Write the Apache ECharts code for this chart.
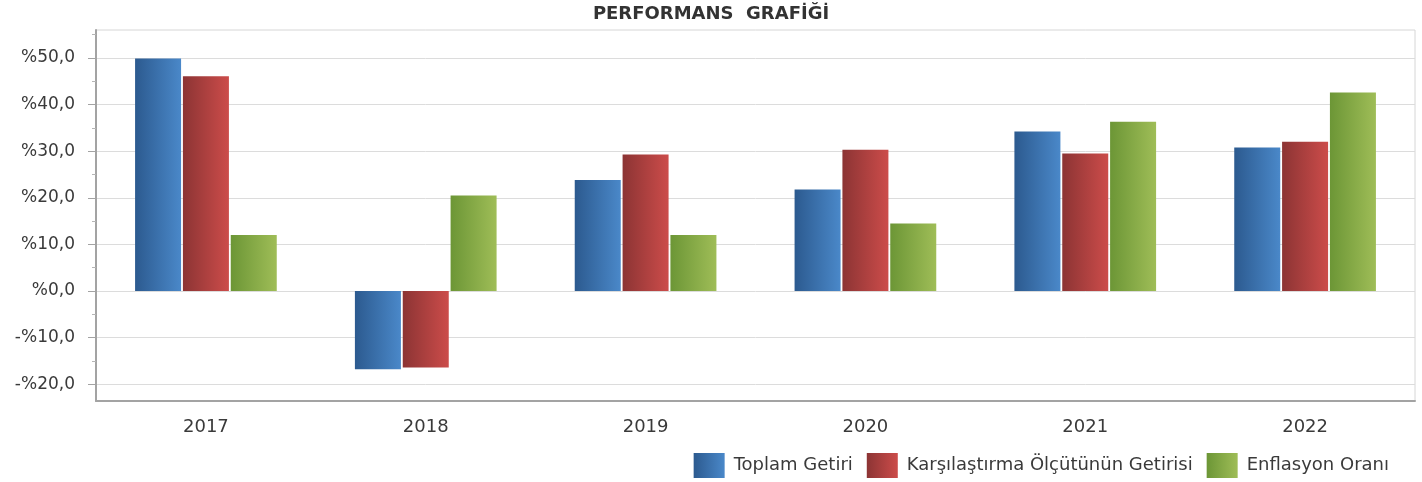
<!DOCTYPE html>
<html>
<head>
<meta charset="utf-8">
<title>Performans Grafiği</title>
<script src="https://cdn.jsdelivr.net/npm/echarts@6/dist/echarts.min.js"></script>
<style>
  html, body { margin: 0; padding: 0; background: #fff; }
  #chart { width: 1422px; height: 482px; }
</style>
</head>
<body>
<div id="chart"></div>
<script>
// yillar
var years = ['2017', '2018', '2019', '2020', '2021', '2022'];

// getiriler (%)
var toplamGetiri = [49.9, -16.8, 23.8, 21.8, 34.2, 30.8];
var olcutGetirisi = [46.1, -16.4, 29.3, 30.3, 29.5, 32.0];
var enflasyon = [12.0, 20.5, 12.0, 14.5, 36.3, 42.6];

// eksen etiketleri
var yTicks = [-20, -10, 0, 10, 20, 30, 40, 50];
var yMinorTicks = [-15, -5, 5, 15, 25, 35, 45, 55];

var chart = echarts.init(document.getElementById('chart'));

function grad(from, to) {
  return {
    type: 'linear', x: 0, y: 0, x2: 1, y2: 0,
    colorStops: [{ offset: 0, color: from }, { offset: 1, color: to }]
  };
}

function pct(v) {
  return (v < 0 ? '-' : '') + '%' + Math.abs(v).toFixed(1).replace('.', ',');
}

var txt = '#3a3a3a';
var font = 'DejaVu Sans';

var option = {
  animation: false,
  title: {
    text: 'PERFORMANS  GRAFİĞİ',
    left: 'center',
    top: 0,
    textStyle: { fontFamily: font, fontSize: 18, fontWeight: 'bold', color: '#333' }
  },
  legend: {
    right: 28,
    top: 448,
    icon: 'rect',
    itemWidth: 31,
    itemHeight: 25,
    itemGap: 14,
    textStyle: { fontFamily: font, fontSize: 18, color: txt, padding: [0, 0, 0, 4] },
    data: ['Toplam Getiri', 'Karşılaştırma Ölçütünün Getirisi', 'Enflasyon Oranı']
  },
  grid: {
    left: 96,
    right: 7,
    top: 30,
    bottom: 81,
    show: true,
    borderColor: '#d6d6d6',
    borderWidth: 1
  },
  xAxis: {
    type: 'category',
    data: years,
    axisLine: { onZero: false, lineStyle: { color: '#a3a3a3', width: 2 } },
    axisTick: { alignWithLabel: true, length: 8, lineStyle: { color: '#a3a3a3' } },
    axisLabel: { fontFamily: font, fontSize: 18, color: txt, margin: 17 }
  },
  yAxis: [
    {
      type: 'value',
      min: -23.6,
      max: 56,
      axisLine: { show: true, lineStyle: { color: '#a3a3a3', width: 2 } },
      axisTick: { show: true, length: 8, customValues: yTicks, lineStyle: { color: '#a3a3a3' } },
      axisLabel: {
        customValues: yTicks,
        formatter: pct,
        fontFamily: font, fontSize: 17, color: txt, margin: 21
      },
      splitLine: { show: true, lineStyle: { color: '#dcdcdc' } }
    },
    {
      // ara tikler
      type: 'value',
      position: 'left',
      min: -23.6,
      max: 56,
      axisLine: { show: false },
      axisTick: { show: true, length: 4, customValues: yMinorTicks, lineStyle: { color: '#b5b5b5' } },
      axisLabel: { show: false },
      splitLine: { show: false }
    }
  ],
  series: [
    {
      name: 'Toplam Getiri',
      type: 'bar',
      data: toplamGetiri,
      barWidth: 46,
      barGap: '4%',
      itemStyle: { color: grad('#2c5a8f', '#4a88c9') }
    },
    {
      name: 'Karşılaştırma Ölçütünün Getirisi',
      type: 'bar',
      data: olcutGetirisi,
      barWidth: 46,
      barGap: '4%',
      itemStyle: { color: grad('#8c3434', '#cc4c4a') }
    },
    {
      name: 'Enflasyon Oranı',
      type: 'bar',
      data: enflasyon,
      barWidth: 46,
      barGap: '4%',
      itemStyle: { color: grad('#6c9636', '#9fbd57') }
    }
  ]
};

chart.setOption(option);
</script>
</body>
</html>
